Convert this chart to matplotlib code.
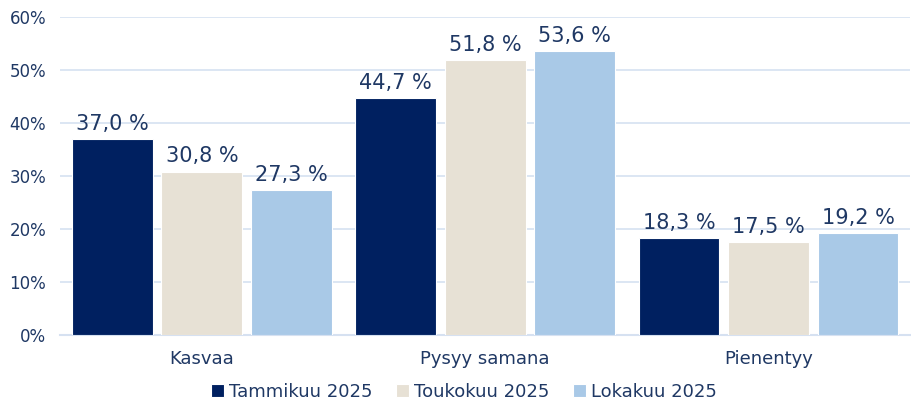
import matplotlib
matplotlib.use("Agg")
from matplotlib import pyplot as plt
import numpy as np

categories = ["Kasvaa", "Pysyy samana", "Pienentyy"]
series = ["Tammikuu 2025", "Toukokuu 2025", "Lokakuu 2025"]
values = [
    [37.0, 44.7, 18.3],
    [30.8, 51.8, 17.5],
    [27.3, 53.6, 19.2],
]
colors = ["#002060", "#E7E1D5", "#A9C9E7"]
text_color = "#1F3864"
grid_color = "#D6E1F1"

plt.rcParams['font.family'] = ['DejaVu Sans']

fig = plt.figure(figsize=(9.12, 4.03), dpi=100)
ax = fig.add_axes([0.066, 0.169, 0.932, 0.789])

x = np.arange(len(categories))
width = 0.285
gap = 0.031
for i, (name, vals) in enumerate(zip(series, values)):
    offset = (i - 1) * (width + gap)
    bars = ax.bar(x + offset, vals, width, color=colors[i], label=name,
                  edgecolor="white", linewidth=0.8, zorder=3)
    for b, v in zip(bars, vals):
        ax.text(b.get_x() + b.get_width() / 2, v + 1.0,
                ("%.1f %%" % v).replace(".", ","),
                ha="center", va="bottom", fontsize=15, color=text_color)

ax.set_xlim(-0.5, 2.5)
ax.set_ylim(0, 60)
ax.set_yticks(range(0, 61, 10))
ax.set_yticklabels(["%d%%" % t for t in range(0, 61, 10)])
ax.set_xticks(x)
ax.set_xticklabels(categories)
ax.tick_params(axis="y", length=0, labelsize=12, colors=text_color, pad=10)
ax.tick_params(axis="x", length=0, labelsize=13, colors=text_color, pad=11)
ax.grid(axis="y", color=grid_color, linewidth=1.2, zorder=0)
for s in ["top", "right", "left"]:
    ax.spines[s].set_visible(False)
ax.spines["bottom"].set_color(grid_color)
ax.spines["bottom"].set_linewidth(1.5)

handles, labels = ax.get_legend_handles_labels()
leg = fig.legend(handles, labels, loc="center", bbox_to_anchor=(0.509, 0.028),
                 ncol=3, frameon=False, fontsize=13, handlelength=0.7,
                 handleheight=0.7, handletextpad=0.3, columnspacing=1.3)
for t in leg.get_texts():
    t.set_color(text_color)

fig.savefig("out.png", dpi=100)
